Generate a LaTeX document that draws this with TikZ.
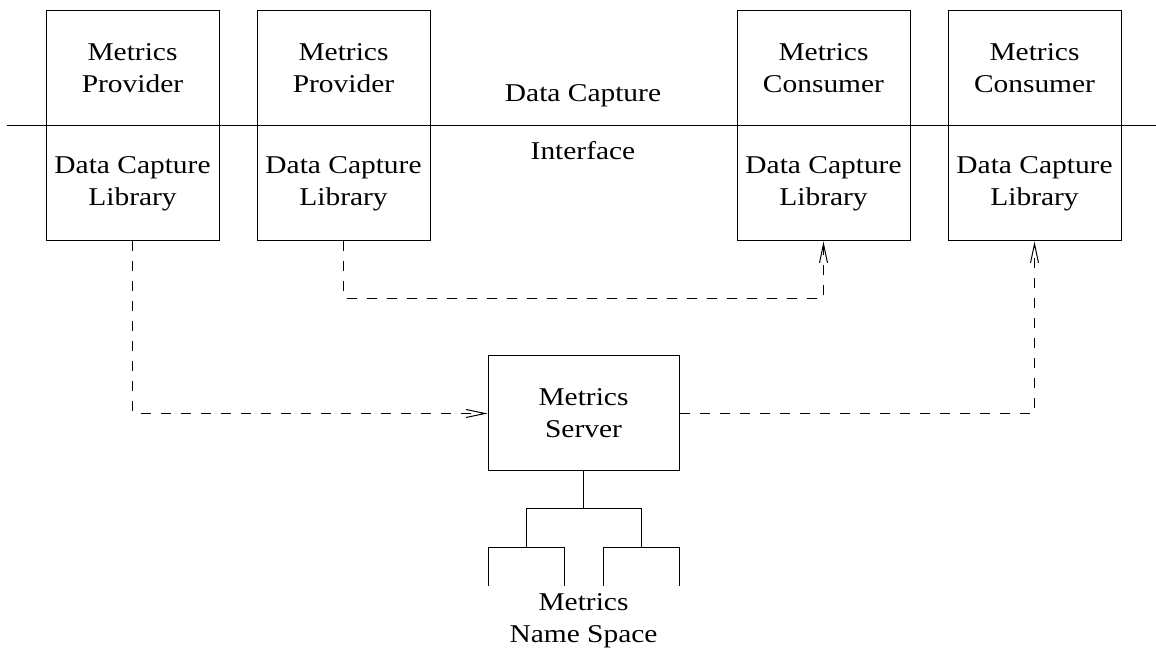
\documentclass[tikz,border=0pt]{standalone}
\usepackage{fontspec}
\setmainfont{Liberation Serif}[FakeStretch=1.15]
\usetikzlibrary{positioning,arrows.meta}

\tikzset{
	box/.style={draw,line width=0.5pt,minimum width=86.5pt,minimum height=57.5pt,inner sep=0pt,align=center,font=\fontsize{12.8}{16}\selectfont},
	txt/.style={inner sep=0pt,align=center,font=\fontsize{12.8}{16}\selectfont},
	link/.style={line width=0.5pt,dash pattern=on 5pt off 5pt,-{Straight Barb[length=9.5pt,width=4pt]}}
}

\begin{document}
\begin{tikzpicture}[x=0.5pt,y=-0.5pt,line width=0.5pt]
		\useasboundingbox (0,0) rectangle (1156,651);
		% interface line
		\coordinate (il) at (7,126);
		\coordinate (ir) at (1156,126);
		\draw(il)--(ir);
		% top boxes
		\node (prov1) at (132.5,68) [box]{Metrics\\Provider};
		\node (lib1) at (132.5,183.5) [box]{Data Capture\\Library};
		\node (prov2) at (343.5,68) [box]{Metrics\\Provider};
		\node (lib2) at (343.5,183.5) [box]{Data Capture\\Library};
		\node (cons1) at (823.5,68) [box]{Metrics\\Consumer};
		\node (lib3) at (823.5,183.5) [box]{Data Capture\\Library};
		\node (cons2) at (1034.5,68) [box]{Metrics\\Consumer};
		\node (lib4) at (1034.5,183.5) [box]{Data Capture\\Library};
		\node (ifa) at (583,102) [txt,anchor=base]{Data Capture};
		\node (ifb) at (583,160) [txt,anchor=base]{Interface};
		% server
		\node (srv) at (583.5,413.5) [box,minimum width=95.5pt]{Metrics\\Server};
		\draw[link](lib2.south)--++(0,57)-|(lib3.south);
		\draw[link](lib1.south)|-(srv.west);
		\draw[link](srv.east)-|(lib4.south);
		% name space
		\coordinate (ns) at (583.5,509);
		\draw(srv.south)--(ns);
		\draw(526,548)--(526,509)--(641,509)--(641,548);
		\draw(488,586)--(488,548)--(564,548)--(564,586);
		\draw(603,586)--(603,548)--(679,548)--(679,586);
		\node (nsp) at (583.5,621) [txt]{Metrics\\Name Space};
	\end{tikzpicture}
\end{document}
